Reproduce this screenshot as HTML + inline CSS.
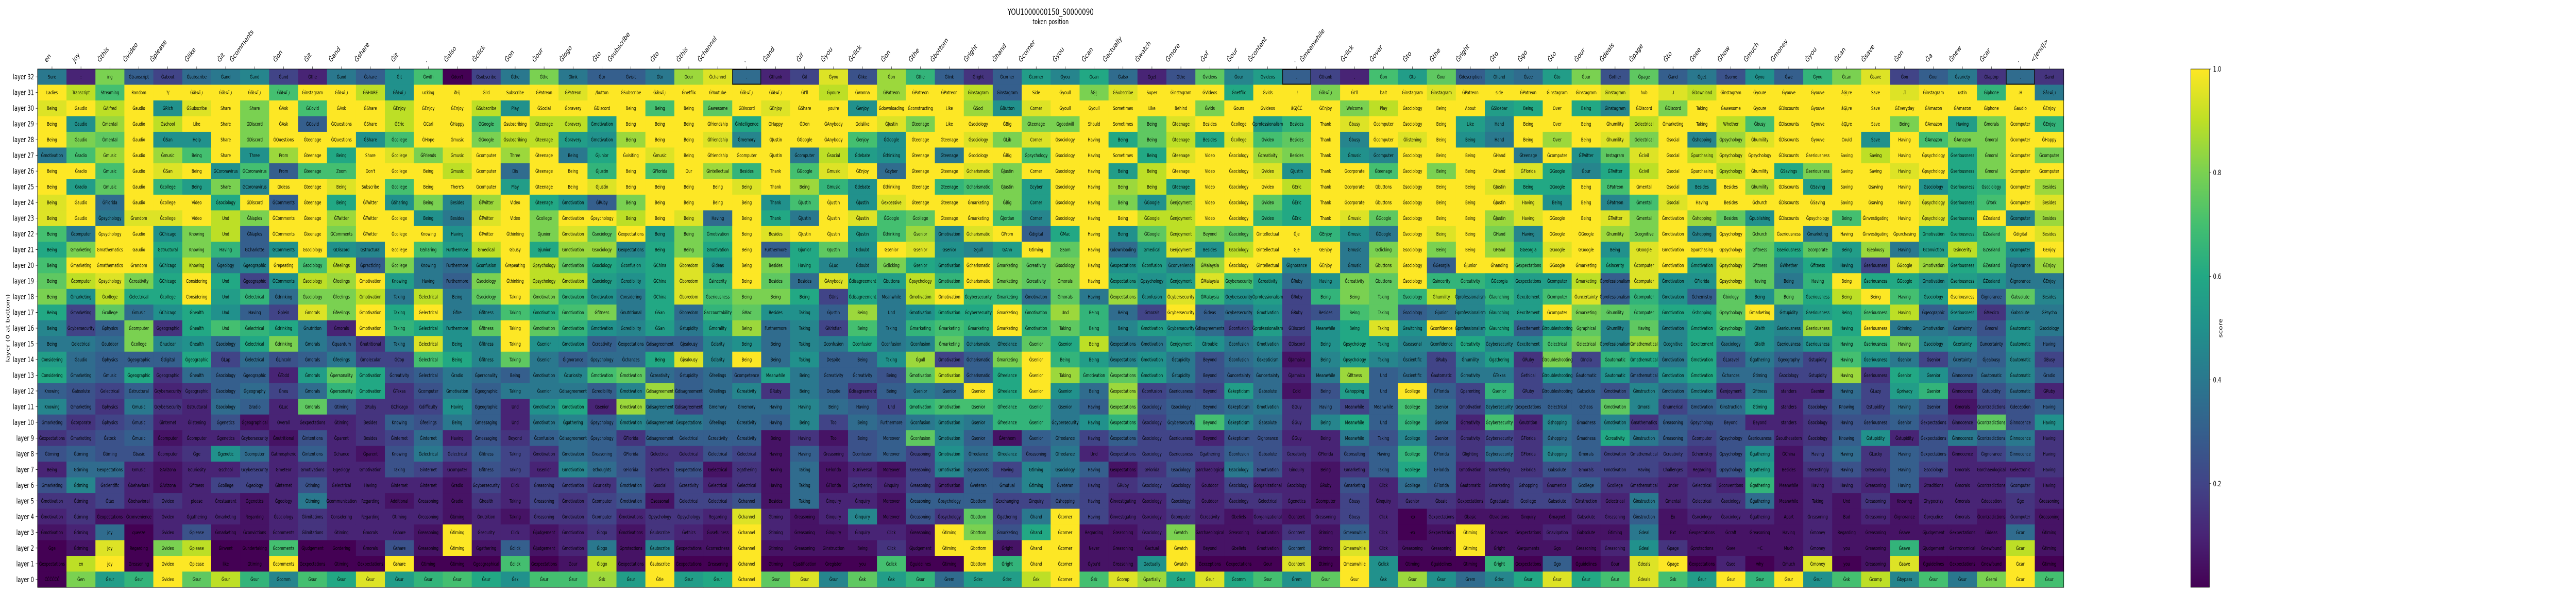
<!DOCTYPE html>
<html><head><meta charset="utf-8"><title>YOU1000000150_S0000090</title>
<style>
html,body{margin:0;padding:0;background:#fff;width:100%;height:1155px;overflow:hidden;}
svg{display:block;font-family:"DejaVu Sans","Liberation Sans",sans-serif;width:100vw;height:1155px;}
</style></head>
<body>
<svg id="chart" xmlns="http://www.w3.org/2000/svg" viewBox="0 0 7000 1155" preserveAspectRatio="none">
<rect x="0" y="0" width="7000" height="1155" fill="#fff"/>
<text x="2855" y="29" font-size="16.7" text-anchor="middle">YOU1000000150_S0000090</text>
<text x="2855" y="47" font-size="13.9" text-anchor="middle">token position</text>
<text transform="translate(26,637) rotate(-90)" font-size="13.9" text-anchor="middle">layer (0 at bottom)</text>
<g id="cells"></g>
<g id="celltext"></g>
<g id="xaxis"></g>
<g id="yaxis"></g>
<g id="cbar"></g>
</svg>
<script>
const xLabels=["en","joy","Ġthis","Ġvideo","Ġplease","Ġlike","Ġit","Ġcomments","Ġon","Ġit","Ġand","Ġshare","Ġit",".","Ġalso","Ġclick","Ġon","Ġour",
"Ġlogo","Ġto","Ġsubscribe","Ġto","Ġthis","Ġchannel",".","Ġand","Ġif","Ġyou","Ġclick","Ġon","Ġthe","Ġbottom","Ġright","Ġhand","Ġcorner","Ġyou",
"Ġcan","Ġactually","Ġwatch","Ġmore","Ġof","Ġour","Ġcontent",".","Ġmeanwhile","Ġclick","Ġover","Ġto","Ġthe","Ġright","Ġto","Ġgo","Ġto","Ġour",
"Ġdeals","Ġpage","Ġto","Ġsee","Ġhow","Ġmuch","Ġmoney","Ġyou","Ġcan","Ġsave","Ġon","Ġa","Ġnew","Ġcar",".","<|end|>"];
const yLabels=["layer 32","layer 31","layer 30","layer 29","layer 28","layer 27","layer 26","layer 25","layer 24","layer 23","layer 22","layer 21","layer 20","layer 19","layer 18","layer 17","layer 16","layer 15","layer 14","layer 13","layer 12","layer 11","layer 10","layer 9","layer 8","layer 7","layer 6","layer 5","layer 4","layer 3","layer 2","layer 1","layer 0"];
const colorbarTicks=[0.2,0.4,0.6,0.8,1.0];
const colorbarTickLabels=["0.2","0.4","0.6","0.8","1.0"];
const highlightCells=[[0,24],[0,43],[0,68]];
const cellScores=[
[.4,.1,.8,.3,.2,.35,.4,.45,.2,.1,.4,.3,.5,.7,0,.2,.4,.8, .4,.3,.3,.4,.85,.95,.35,.1,.2,.95,.25,.85,.65,.3,.15,.3,.55,.45, .6,.35,.1,.25,.75,.45,.55,.3,.2,.1,.7,.55,.75,.3,.4,.35,.55,.8, .25,.75,.3,.4,.25,.5,.3,.65,.8,.95,.2,.3,.4,.15,.35,.15],
[1,.9,.7,1,1,1,1,1,.7,1,1,.9,.5,1,1,1,1,1, .95,1,1,1,1,1,1,1,1,.9,1,.85,1,1,.9,.3,1,1, .8,.95,1,1,1,.6,1,1,.8,1,1,1,.95,1,1,1,1,1, .95,1,.95,.9,1,1,1,1,1,1,.95,1,1,.65,1,.4],
[.95,1,.9,1,.5,.95,1,.8,1,.7,1,1,.9,1,1,.9,.5,1, 1,1,1,.7,1,.75,1,.95,1,1,.5,1,1,1,.85,.5,.95,1, 1,1,1,1,.8,1,1,1,1,.8,.9,1,1,1,.55,.6,1,.6, .45,1,.8,1,1,1,1,1,1,1,1,1,1,1,1,1],
[1,.5,.85,1,.9,1,1,.8,1,.3,1,1,.9,1,1,.7,1,.9, .9,.55,1,1,1,1,.6,1,1,1,1,.95,.8,1,1,1,.8,.8, 1,1,.75,.95,1,1,.55,.65,1,.95,1,1,1,.55,.45,1,1,1, 1,.9,1,1,.9,.7,1,1,1,1,.8,1,.55,.8,1,.65],
[1,.8,.75,1,.5,.5,1,.8,1,1,1,.5,.7,1,1,.8,.9,.9, .55,.5,.85,1,1,.95,.45,1,1,1,.7,.5,1,1,.95,.8,.95,1, 1,.6,.75,.9,.6,.95,.7,.75,1,.45,1,.95,1,.5,.4,1,.85,1, .95,.8,1,.45,.85,.95,1,1,1,.5,1,.7,.8,.8,1,1],
[.4,.7,.85,1,.85,.7,1,.5,.85,1,.6,1,.95,.8,.95,1,.85,1, .4,.6,1,.95,1,1,1,1,.4,.9,.55,.5,1,.4,1,1,.7,1, 1,1,.6,.95,1,1,.85,.8,1,.5,.45,1,1,1,1,.4,1,.5, .75,.95,1,.9,.95,1,1,1,1,.9,1,1,.6,.8,1,.8],
[1,1,.7,1,.95,1,.5,.7,.3,.7,.7,1,1,1,.9,1,.35,1, 1,.65,1,.7,1,.85,.65,1,.7,.95,1,.35,1,1,.95,.8,1,1, 1,.55,.9,1,1,1,.95,.5,1,1,.7,1,.8,1,1,.95,.6,.45, .6,.9,1,1,.9,1,.6,.8,1,1,.95,1,.6,.8,1,1],
[1,.55,.75,1,.65,.55,.8,.45,1,1,.95,1,.7,1,1,1,.55,1, 1,.95,1,1,1,1,.95,1,.85,.65,.5,1,1,.65,.7,.8,.55,1, 1,.85,.9,.55,1,1,1,.9,1,1,1,1,1,1,.95,.6,.6,1, .7,1,1,.5,1,.85,1,.55,1,1,1,.5,.6,.65,1,.85],
[.95,1,.35,1,1,1,.6,1,.3,1,.6,1,.5,.8,.45,.85,1,.6, .5,.3,.8,1,1,1,1,.5,.7,1,.5,.95,1,1,1,.8,.55,1, 1,.8,.5,.85,1,1,.75,.6,1,1,1,1,1,1,1,.95,.5,1, .45,.7,.95,1,1,1,1,1,1,1,1,.95,.6,.7,1,.95],
[.95,1,.4,.95,.95,1,.9,.8,1,1,.85,1,1,.5,.4,.95,1,.8, 1,1,.9,1,.95,.35,1,.6,.4,1,.95,.7,.75,1,1,.7,.45,1, 1,1,.9,.9,1,1,.65,.6,1,.95,.75,1,1,1,.85,.95,1,1, .95,.8,1,.85,.75,.5,1,1,.7,1,1,.95,.6,1,.45,.85],
[.7,.4,1,1,.5,.8,.9,.3,1,1,.8,1,1,1,.5,1,1,.8, .95,.75,1,.55,.8,.65,1,.95,1,1,.55,.7,.85,.45,.95,1,.3,.6, 1,.5,.75,.9,.8,.75,1,1,.65,.5,.4,1,.95,1,.8,.45,1,1, .85,.8,1,.45,1,.8,1,.4,1,1,1,.6,.6,.7,1,.95],
[.6,.8,1,1,.6,.8,.65,.3,.5,1,.5,.45,1,.7,.55,.9,1,.6, .85,.85,.45,.6,.8,.6,1,.3,.6,.75,.5,1,.95,.5,.45,.55,1,.75, 1,.35,.55,.95,.5,.9,1,1,1,.4,.8,1,.8,1,.85,.6,.95,1, .5,.95,1,1,1,.75,.6,.75,.55,.85,.4,.55,.9,.7,.5,1],
[.7,1,1,1,.55,.9,.4,.45,1,.7,.9,.3,.8,.4,.35,.5,1,.9, .75,.6,.55,.6,.95,.5,1,.8,.6,.45,.45,.8,.6,.55,1,.8,.75,.8, 1,.5,.55,.45,.85,1,1,.45,1,.4,.85,1,.3,1,1,.7,1,1, .6,.95,1,.55,.95,.75,.45,.6,.5,.2,.95,.85,.6,.7,.4,.85],
[.75,.9,.95,.8,.6,1,.6,.2,.5,.9,.85,1,.55,.4,.3,.8,1,.9, .9,.55,.5,.6,.95,.65,1,.75,.35,.95,.6,.55,.9,.65,1,.8,.75,.8, 1,.55,.5,.55,.95,.7,.55,.35,.5,.8,.75,1,.65,.65,.6,.55,.55,.9, .3,.95,.5,.5,.95,.75,.4,.65,1,.6,.6,.5,.55,.5,.4,.4],
[.8,.5,.9,.6,.6,1,.55,.65,.35,.8,.8,.9,.4,.9,.4,.75,1,.8, .65,.5,.4,.6,.95,.7,.8,.8,.6,.2,.6,.4,.9,1,.65,.65,.35,.75, .4,.85,.5,.95,.65,.5,.55,.2,.65,.8,.75,.65,.9,.45,.65,.55,.7,.95, .3,.65,.5,.3,.75,.5,.75,.6,.9,1,.7,.55,1,.3,.75,.45],
[.6,.2,.75,.35,.5,.6,.5,.3,.2,.95,.8,1,.6,1,.4,.45,.7,.6, .7,.8,.4,.6,.35,.65,.75,.5,.5,.3,.85,.4,.5,.6,.6,1,.65,.85, .65,.35,.2,1,.3,.35,.5,.2,.25,.7,.75,.3,.35,.45,.55,.55,1,.8, .75,.7,.6,.6,.75,1,.45,.55,.6,.7,.9,.3,.5,.15,.4,.4],
[.45,.2,.3,.8,.15,.6,.7,.65,.6,.4,.1,1,.65,.6,.5,.75,1,.75, .65,.5,.45,.55,.4,.55,.85,.35,.45,.2,.7,.4,.65,.7,.65,1,.65,.75, .65,.45,.55,.5,.35,.2,.55,.2,.5,.6,.95,.5,1,.45,.6,.3,.55,.75, .45,.75,.45,.6,.7,.5,.45,.85,.6,1,.4,.4,.35,.25,.5,.4],
[.4,.4,.35,.8,.45,.5,.35,.6,.8,.4,.3,.15,.4,.95,.5,.45,1,.5, .5,.3,.35,.3,.3,.45,.5,.35,.45,.4,.6,.4,.45,.75,.45,.45,.75,.6, .9,.4,.4,.55,.5,.4,.45,.15,.5,.6,.55,.45,.45,.6,.45,.45,.7,.8, .45,.85,.45,.6,.4,.5,.4,.5,.65,.65,.8,.45,.5,.3,.5,.3],
[.55,.35,.3,.3,.3,.6,.2,.35,.25,.3,.4,.2,.2,.7,.6,.45,.75,.4, .3,.35,.35,.6,.95,.45,1,.35,.5,.3,.3,.5,.85,.2,.3,.8,1,.65, .55,.45,.5,.4,.25,.35,.4,.05,.45,.55,.45,.4,.2,.45,.55,.15,.8,.2, .65,.6,.4,.6,.25,.4,.3,.2,.7,.5,.4,.2,.35,.3,.45,.2],
[.6,.35,.3,.6,.15,.35,.3,.3,.1,.55,.75,.6,.25,.3,.4,.35,.3,.4, .45,.7,.75,.35,.3,.35,.3,.55,.4,.3,.3,.25,.75,.9,.3,.6,1,.85, .65,.75,.55,.4,.25,.3,.35,.1,.4,.85,.3,.35,.2,.4,.4,.2,.5,.3, .5,.3,.5,.6,.35,.35,.2,.2,.85,.15,.6,.5,.3,.35,.45,.3],
[.3,.25,.2,.3,.1,.15,.3,.35,.2,.35,.65,.6,.15,.25,.4,.3,.4,.4, .4,.3,.45,.85,.3,.35,.45,.15,.4,.3,.15,.3,.4,.35,1,.6,1,.5, .35,.85,.2,.25,.2,.55,.35,.05,.25,.55,.3,1,.3,.2,.65,.2,.3,.3, .25,.45,.35,.45,.15,.4,.1,.1,.35,.2,.55,.65,.1,.25,.35,.1],
[.45,.25,.15,.4,.15,.1,.35,.3,.1,.75,.25,.15,.15,.2,.5,.3,.1,.5, .6,.1,.85,.4,.2,.35,.35,.35,.45,.35,.3,.2,.65,.7,.7,.65,.65,.4, .3,.8,.25,.3,.3,.35,.4,.15,.3,.2,.3,.7,.35,.2,.4,.3,.3,.3, .75,.45,.2,.3,.35,.55,.1,.2,.3,.2,.35,.25,.05,.2,.25,.3],
[.25,.15,.2,.25,.1,.1,.25,.05,.1,.1,.1,.15,.3,.25,.4,.3,.1,.4, .45,.3,.45,.4,.4,.35,.35,.3,.45,.2,.35,.3,.4,.45,.4,.65,.65,.4, .5,.65,.2,.3,.7,.45,.35,.15,.45,.6,.3,.65,.35,.1,.7,.1,.45,.3, .45,.15,.3,.25,.25,.1,.1,.15,.25,.25,.3,.2,.15,.75,.25,.5],
[.15,.2,.25,.3,.05,.1,.1,.15,.05,.25,.1,.15,.2,.35,.1,.25,.15,.3, .35,.3,.15,.3,.3,.3,.3,.05,.15,.05,.25,.3,.75,.45,.3,.05,.3,.35, .2,.3,.2,.2,.1,.25,.25,.1,.1,.4,.25,.45,.25,.15,.2,.15,.35,.3, .6,.4,.3,.2,.25,.25,.1,.15,.3,.5,.1,.25,.4,.3,.4,.15],
[.25,.3,.25,.25,.1,.15,.5,.35,.1,.3,.1,.05,.25,.4,.2,.3,.2,.15, .35,.3,.25,.15,.15,.25,.2,.05,.3,.1,.25,.3,.2,.5,.35,.45,.25,.4, .1,.2,.2,.2,.2,.3,.25,.15,.1,.25,.3,.65,.3,.15,.35,.15,.45,.3, .2,.2,.2,.15,.25,.5,.05,.2,.35,.15,.3,.25,.1,.2,.3,.15],
[.1,.35,.35,.1,.05,.1,.1,.2,.1,.15,.1,.1,.25,.2,.1,.25,.2,.1, .45,.35,.25,.15,.25,.05,.15,.05,.35,.05,.1,.05,.2,.45,.3,.2,.45,.4, .3,.05,.15,.25,.1,.4,.25,.1,.05,.15,.3,.6,.3,.1,.15,.15,.25,.2, .2,.2,.15,.1,.25,.55,.05,.15,.25,.15,.3,.2,.1,.1,.1,.15],
[.25,.45,.2,.1,.05,.1,.2,.2,.1,.25,.1,.1,.1,.1,.05,.2,.1,.2, .2,.15,.3,.15,.2,.1,.15,.05,.35,.05,.15,.1,.2,.1,.3,.3,.45,.3, .2,.15,.2,.2,.1,.2,.1,.1,.05,.25,.1,.35,.3,.1,.15,.2,.15,.3, .15,.15,.1,.15,.1,.65,.05,.1,.15,.1,.3,.1,.1,.1,.2,.1],
[.15,.15,.2,.1,.15,.1,.1,.05,.1,.4,.1,.1,.05,.1,.05,.15,.1,.2, .15,.2,.25,.05,.2,.2,.25,.05,.35,.1,.1,.05,.3,.3,.3,.2,.2,.25, .2,.1,.1,.2,.1,.15,.15,.1,.05,.2,.1,.15,.15,.1,.15,.2,.2,.15, .1,.4,.1,.15,.15,.35,.05,.1,.05,.15,.05,.1,.1,.1,.15,.1],
[.1,.15,.05,.05,.1,.1,.1,.05,.1,.15,.1,.1,.1,.1,.05,.1,.05,.15, .15,.2,.1,.15,.15,.1,.95,.1,.05,.1,.45,.05,.25,.15,.75,.2,.4,1, .2,.1,.1,.15,.1,.05,.1,.05,.1,.2,.1,0,.1,.05,.05,.05,.05,.1, .1,.3,.05,.1,.1,.1,.05,.1,.05,.1,.05,.1,.1,.05,.15,.05],
[.05,.1,.35,0,.1,.25,.05,.05,.1,.15,.1,.1,.1,.05,1,.1,.1,.05, .1,.15,.05,.15,.1,.05,1,.1,.05,.05,.1,.1,.05,1,.8,.25,.6,1, .05,.05,.1,.8,.05,.05,.05,.15,.05,.3,.1,0,.05,1,.05,.05,.1,.05, .05,.4,.05,.05,.05,.05,.05,.1,.05,.05,.05,.05,.05,.05,.35,.05],
[0,.05,.95,0,.8,.9,0,0,.7,0,0,.05,.25,.05,1,.05,.3,.05, .1,.4,.05,.45,.05,.05,1,.05,.05,.05,.05,.15,.05,1,1,.05,1,1, .05,.05,.05,1,.05,.05,.05,.3,.05,.95,.1,.05,.05,1,.05,.05,.05,.05, .1,.5,.15,.05,.05,.05,.05,.1,.05,.05,.65,.05,.05,.05,.9,.05],
[0,.9,1,0,1,1,0,0,1,0,0,0,1,0,0,0,.7,0, .05,.9,.05,1,0,0,1,0,0,0,0,.7,0,0,1,.65,1,1, .05,.05,.5,1,0,0,0,.95,0,1,.5,0,0,0,.65,0,.3,0, .05,.95,1,0,.1,0,.05,.95,0,.05,.95,0,0,0,1,0],
[0,.8,.55,.65,1,.75,.9,.65,.45,.7,.6,.95,.55,.65,.7,.6,.5,.7, .7,.85,.55,1,.55,.6,1,.75,.95,.45,.75,.55,.65,.35,.55,.55,.9,1, .7,.95,.85,.6,.95,.6,.7,.5,.75,1,.5,.85,.5,.35,.45,.6,.95,.6, .7,.95,.7,.55,1,.65,1,.5,.7,.9,.45,.7,.4,.8,1,.7]
];
const cellTokenRows=[
"Sure|:|ing|Ġtranscript|Ġabout|Ġsubscribe|Ġand|Ġand|Ġand|Ġthe|Ġand|Ġshare|Ġit|Ġwith|Ġdon't|Ġsubscribe|Ġthe|Ġthe|"+"Ġlink|Ġto|Ġvisit|Ġto|Ġour|Ġchannel|.|Ġthank|Ġif|Ġyou|Ġlike|Ġon|Ġthe|Ġlink|Ġright|Ġcorner|Ġcorner|Ġyou|"+"Ġcan|Ġalso|Ġget|Ġthe|Ġvideos|Ġour|Ġvideos|.|Ġthank|,|Ġon|Ġto|Ġour|Ġdescription|Ġhand|Ġsee|Ġto|Ġour|"+"Ġother|Ġpage|Ġand|Ġget|Ġsome|Ġyou|Ġwe|Ġyou|Ġcan|Ġsave|Ġon|Ġour|Ġvariety|Ġlaptop|.|Ġand",
"Ladies|Transcript|Streaming|Random|?/|ĠâĿ¤ï¸ı|ĠâĿ¤ï¸ı|ĠâĿ¤ï¸ı|ĠâĿ¤ï¸ı|Ġinstagram|ĠâĿ¤ï¸ı|ĠSHARE|ĠâĿ¤ï¸ı|ucking|ðĿĳ|Ġi'd|Subscribe|ĠPatreon|"+"ĠPatreon|/button|ĠSubscribe|ĠâĿ¤ï¸ı|Ġnetflix|ĠYoutube|ĠâĿ¤ï¸ı|ĠâĿ¤ï¸ı|ĠI'll|Ġyoure|Ġwanna|ĠPatreon|ĠPatreon|ĠPatreon|Ġinstagram|Ġinstagram|Side|Ġyoull|"+"âĢĻ|ĠSubscribe|Super|Ġinstagram|ĠVideos|Ġnetflix|Ġvids|.!|ĠâĿ¤ï¸ı|ĠI'll|bait|Ġinstagram|Ġinstagram|ĠPatreon|side|ĠPatreon|Ġinstagram|Ġinstagram|"+"Ġinstagram|hub|.I|ĠDownload|Ġinstagram|Ġyoure|Ġyouve|Ġyouve|âĢĻre|Save|.T|Ġinstagram|ustin|Ġiphone|.H|ĠâĿ¤ï¸ı",
"Being|Ġaudio|ĠAlfred|Ġaudio|ĠRich|ĠSubscribe|Share|Share|ĠAsk|ĠCovid|ĠAsk|ĠShare|ĠEnjoy|ĠEnjoy|ĠEnjoy|ĠSubscribe|Play|ĠSocial|"+"Ġbravery|ĠDiscord|Being|Being|Being|Ġawesome|ĠDiscord|ĠEnjoy|ĠShare|you're|Ġenjoy|Ġdownloading|Ġconstructing|Like|ĠSoci|ĠButton|Corner|Ġyoull|"+"Ġyoull|Sometimes|Like|Behind|Ġvids|Ġours|Ġvideos|âĢ¦ĊĊ|ĠEnjoy|Welcome|Play|Ġsociology|Being|About|ĠSidebar|Being|Over|Being|"+"Ġinstagram|ĠDiscord|ĠDiscord|Taking|Ġawesome|Ġyoure|ĠDiscounts|Ġyouve|âĢĻre|Save|ĠEveryday|ĠAmazon|ĠAmazon|Ġiphone|Ġaudio|ĠEnjoy",
"Being|Ġaudio|Ġmental|Ġaudio|Ġschool|Like|Share|ĠDiscord|ĠAsk|ĠCovid|ĠQuestions|ĠShare|ĠEric|ĠCarl|ĠHappy|ĠGoogle|Ġsubscribing|Ġteenage|"+"Ġbravery|Ġmotivation|Being|Being|Being|Ġfriendship|Ġintelligence|ĠHappy|ĠDon|ĠAnybody|Ġdislike|ĠJustin|Ġteenage|Like|Ġsociology|ĠBig|Ġteenage|Ġgoodwill|"+"Should|Sometimes|Being|Ġteenage|Besides|Ġcollege|Ġprofessionalism|Besides|Thank|Ġbusy|Ġcomputer|Ġsociology|Being|Like|Hand|Being|Over|Being|"+"Ġhumility|Ġelectrical|Ġmarketing|Taking|Whether|Ġbusy|ĠDiscounts|Ġyouve|âĢĻre|Save|Being|ĠAmazon|Having|Ġmorals|Ġcomputer|ĠEnjoy",
"Being|Ġaudio|Ġmental|Ġaudio|ĠSan|Help|Share|ĠDiscord|ĠQuestions|Ġteenage|ĠQuestions|ĠShare|Ġcollege|ĠHope|Ġmusic|ĠGoogle|Ġsubscribing|Ġteenage|"+"Ġbravery|Ġmotivation|Being|Being|Being|Ġfriendship|Ġmemory|ĠJustin|ĠGoogle|ĠAnybody|Ġenjoy|ĠGoogle|Ġteenage|Ġteenage|Ġsociology|ĠLib|Corner|Ġsociology|"+"Having|Being|Being|Ġteenage|Besides|Ġcollege|Ġvideo|Besides|Thank|Ġbusy|Ġcomputer|Ġlistening|Being|Being|Hand|Being|Over|Being|"+"Ġhumility|Ġelectrical|Ġsocial|Ġshopping|Ġpsychology|Ġhumility|ĠDiscounts|Ġyouve|Could|Save|Having|ĠAmazon|ĠAmazon|Ġmoral|Ġcomputer|ĠHappy",
"Ġmotivation|Ġradio|Ġmusic|Ġaudio|Ġmusic|Being|Share|Three|Prom|Ġteenage|Being|Share|Ġcollege|ĠFriends|Ġmusic|Ġcomputer|Three|Ġteenage|"+"Being|Ġjunior|Ġvisiting|Ġmusic|Being|Ġfriendship|Ġcomputer|ĠJustin|Ġcomputer|Ġsocial|Ġdebate|Ġthinking|Ġteenage|Ġteenage|Ġsociology|ĠBig|Ġpsychology|Ġsociology|"+"Having|Sometimes|Being|Ġteenage|Video|Ġsociology|Ġcreativity|Besides|Thank|Ġmusic|Ġcomputer|Ġsociology|Being|Being|ĠHand|Ġteenage|Ġcomputer|ĠTwitter|"+"Instagram|Ġcivil|Ġsocial|Ġpurchasing|Ġpsychology|Ġpsychology|ĠDiscounts|Ġseriousness|Saving|Saving|Having|Ġpsychology|Ġseriousness|Ġmoral|Ġcomputer|Ġcomputer",
"Being|Ġradio|Ġmusic|Ġaudio|ĠSan|Being|ĠCoronavirus|ĠCoronavirus|Prom|Ġteenage|Zoom|Don't|Ġcollege|Being|Ġmusic|Ġcomputer|Dis|Ġteenage|"+"Being|ĠJustin|Being|ĠFlorida|Our|Ġintellectual|Besides|Thank|ĠGoogle|Ġmusic|ĠEnjoy|Ġcyber|Ġteenage|Ġteenage|Ġcharismatic|ĠJustin|Corner|Ġsociology|"+"Having|Being|Being|Ġteenage|Video|Ġsociology|Ġvideo|ĠJustin|Thank|Ġcorporate|Ġteenage|Ġsociology|Being|Being|ĠHand|ĠFlorida|ĠGoogle|Ġour|"+"ĠTwitter|Ġcivil|Ġsocial|Ġpurchasing|Ġpsychology|Ġhumility|ĠSavings|Ġseriousness|Saving|Saving|Having|Ġpsychology|Ġseriousness|Ġmoral|Ġcomputer|Ġcomputer",
"Being|Ġradio|Ġmusic|Ġaudio|Ġcollege|Being|Share|ĠCoronavirus|ĠIdeas|Ġteenage|Being|Subscribe|Ġcollege|Being|There's|Ġcomputer|Play|Ġteenage|"+"Being|ĠJustin|Being|Being|Being|Being|Being|Thank|Being|Ġmusic|Ġdebate|Ġthinking|Ġteenage|Ġteenage|Ġcharismatic|ĠJustin|Ġcyber|Ġsociology|"+"Having|Being|Being|Ġteenage|Video|Ġsociology|Ġvideo|ĠEric|Thank|Ġcorporate|Ġbuttons|Ġsociology|Being|Being|ĠJustin|Being|ĠGoogle|Being|"+"ĠPatreon|Ġmental|Ġsocial|Besides|Besides|Ġhumility|ĠDiscounts|ĠSaving|Saving|Ġsaving|Having|Ġsociology|Ġseriousness|Ġsociology|Ġcomputer|Besides",
"Being|Ġaudio|ĠFlorida|Ġaudio|Ġcollege|Video|Ġsociology|ĠDiscord|ĠComments|Ġteenage|Being|ĠTwitter|ĠSharing|Being|Besides|ĠTwitter|Video|Ġteenage|"+"Ġmotivation|ĠRuby|Being|Being|Being|Being|Being|Thank|ĠJustin|ĠJustin|ĠJustin|Ġexcessive|Ġteenage|Ġteenage|Ġmarketing|ĠBig|Corner|Ġsociology|"+"Having|Being|ĠGoogle|Ġenjoyment|Video|Ġsociology|Ġvideo|ĠEric|Thank|Ġcorporate|Ġbuttons|Ġsociology|Being|Being|ĠJustin|Having|Being|Being|"+"ĠPatreon|Ġmental|Ġsocial|Having|Besides|Ġchurch|ĠDiscounts|ĠSaving|Saving|Ġsaving|Having|Ġpsychology|Ġseriousness|ĠYork|Ġcomputer|Besides",
"Being|Ġaudio|Ġpsychology|Ġrandom|Ġcollege|Video|Und|ĠNaples|ĠComments|Ġteenage|ĠTwitter|ĠTwitter|Ġcollege|Being|Besides|ĠTwitter|Video|Ġcollege|"+"Ġmotivation|Ġpsychology|Being|Being|Being|Having|Being|Thank|ĠJustin|ĠJustin|ĠJustin|ĠGoogle|Ġcollege|Ġteenage|Ġmarketing|ĠJordan|Corner|Ġsociology|"+"Having|Being|ĠGoogle|Ġenjoyment|Video|Ġsociology|Ġvideo|ĠEric|Thank|Ġmusic|ĠGoogle|Ġsociology|Being|Being|ĠJustin|Having|ĠGoogle|Being|"+"ĠTwitter|Ġmental|Ġmotivation|Ġshopping|Besides|Ġpublishing|ĠDiscounts|Ġpsychology|Being|Ġinvestigating|Having|Ġpsychology|Ġseriousness|ĠZealand|Ġcomputer|Besides",
"Being|Ġcomputer|Ġpsychology|Ġaudio|ĠChicago|Knowing|Und|ĠNaples|ĠComments|Ġteenage|ĠComments|ĠTwitter|Ġcollege|Knowing|Having|ĠTwitter|Ġthinking|Ġjunior|"+"Ġmotivation|Ġsociology|Ġexpectations|Being|Being|Ġmotivation|Being|Besides|ĠJustin|ĠJustin|ĠJustin|Ġthinking|Ġsenior|Ġmotivation|Ġcharismatic|ĠProm|Ġdigital|ĠMac|"+"Having|Being|ĠGoogle|Ġenjoyment|Beyond|Ġsociology|Ġintellectual|Ġje|ĠEnjoy|Ġmusic|ĠGoogle|Ġsociology|Being|Being|ĠHand|Having|ĠGoogle|ĠGoogle|"+"Ġhumility|Ġcognitive|Ġmotivation|Ġshopping|Ġpsychology|Ġchurch|Ġseriousness|Ġmarketing|Having|Ġinvestigating|Ġpurchasing|Ġmotivation|Ġseriousness|ĠZealand|Ġdigital|Besides",
"Being|Ġmarketing|Ġmathematics|Ġaudio|Ġstructural|Knowing|Having|ĠCharlotte|ĠComments|Ġsociology|ĠDiscord|Ġstructural|Ġcollege|ĠSharing|Furthermore|Ġmedical|Ġbusy|Ġjunior|"+"Ġmotivation|Ġsociology|Ġexpectations|Being|Being|Ġmotivation|Being|Furthermore|Ġjunior|ĠJustin|Ġdoubt|Ġsenior|Ġsenior|Ġsenior|Ġgull|ĠAnn|Ġtiming|ĠSam|"+"Having|Ġdownloading|Ġmedical|Ġenjoyment|Besides|Ġsociology|Ġintellectual|Ġje|ĠEnjoy|Ġmusic|Ġclicking|Ġsociology|Being|Being|ĠHand|ĠGeorgia|ĠGoogle|ĠGoogle|"+"Being|ĠGoogle|Ġmotivation|Ġpurchasing|Ġpsychology|Ġfitness|Ġseriousness|Ġcorporate|Being|Ġjealousy|Having|Ġconviction|Ġsincerity|ĠZealand|Ġcomputer|ĠEnjoy",
"Being|Ġmarketing|Ġmathematics|Ġrandom|ĠChicago|Knowing|Ġgeology|Ġgeographic|Ġrepeating|Ġsociology|Ġfeelings|Ġpracticing|Ġcollege|Knowing|Furthermore|Ġconfusion|Ġrepeating|Ġpsychology|"+"Ġmotivation|Ġsociology|Ġconfusion|ĠChina|Ġboredom|Ġideas|Being|Besides|Having|ĠLuc|Ġdoubt|Ġclicking|Ġsenior|Ġmotivation|Ġcharismatic|Ġmarketing|Ġcreativity|Ġsociology|"+"Having|Ġexpectations|Ġconfusion|Ġconvenience|ĠMalaysia|Ġsociology|Ġintellectual|Ġignorance|ĠEnjoy|Ġmusic|Ġbuttons|Ġsociology|ĠGeorgia|Ġjunior|Ġhanding|Ġexpectations|ĠGoogle|Ġmarketing|"+"Ġsincerity|Ġcomputer|Ġmotivation|Ġmotivation|Ġpsychology|Ġfitness|ĠWhether|Ġfitness|Having|Ġseriousness|ĠGoogle|Ġmotivation|Ġseriousness|ĠZealand|Ġignorance|ĠEnjoy",
"Being|Ġcomputer|Ġpsychology|Ġcreativity|ĠChicago|Considering|Und|Ġgeographic|ĠComments|Ġsociology|Ġfeelings|Ġmotivation|Knowing|Having|Furthermore|Ġsociology|Ġthinking|Ġpsychology|"+"Ġmotivation|Ġsociology|Ġcredibility|ĠChina|Ġboredom|Ġsincerity|Being|Besides|Besides|ĠAnybody|Ġdisagreement|Ġbuttons|Ġpsychology|Ġmotivation|Ġcharismatic|Ġmarketing|Ġcreativity|Ġmorals|"+"Having|Ġexpectations|Ġpsychology|Ġenjoyment|ĠMalaysia|Ġcybersecurity|Ġcreativity|ĠRuby|Having|Ġcreativity|Ġbuttons|Ġsociology|Ġsincerity|Ġcreativity|ĠGeorgia|Ġexpectations|Ġcomputer|Ġmarketing|"+"Ġprofessionalism|Ġcomputer|Ġmotivation|ĠFlorida|Ġpsychology|Having|Being|Having|Being|Ġseriousness|ĠGoogle|Ġmotivation|Ġseriousness|ĠZealand|Ġignorance|ĠEnjoy",
"Being|Ġmarketing|Ġcollege|Ġelectrical|Ġcollege|Considering|Und|Ġelectrical|Ġdrinking|Ġsociology|Ġfeelings|Ġmotivation|Taking|Ġelectrical|Being|Ġsociology|Taking|Ġmotivation|"+"Ġmotivation|Ġmotivation|Considering|ĠChina|Ġboredom|Ġseriousness|Being|Being|Being|ĠUns|Ġdisagreement|Meanwhile|Ġmotivation|Ġmotivation|Ġcybersecurity|Ġmarketing|Ġmotivation|Ġmorals|"+"Having|Ġexpectations|Ġconfusion|Ġcybersecurity|ĠMalaysia|Ġcybersecurity|Ġprofessionalism|ĠRuby|Being|Being|Taking|Ġsociology|Ġhumility|Ġprofessionalism|Ġlaunching|Ġexcitement|Ġcomputer|Ġuncertainty|"+"Ġprofessionalism|Ġcomputer|Ġmotivation|Ġchemistry|Ġbiology|Being|Being|Ġseriousness|Being|Being|Having|Ġsociology|Ġseriousness|Ġignorance|Ġabsolute|Besides",
"Being|Ġmarketing|Ġcollege|Ġmusic|ĠChicago|Ġhealth|Und|Having|Ġplein|Ġmorals|Ġfeelings|Ġmotivation|Taking|Ġelectrical|Ġfire|Ġfitness|Taking|Ġmotivation|"+"Ġmotivation|Ġfitness|Ġnutritional|ĠSan|Ġboredom|Ġaccountability|ĠMac|Besides|Taking|ĠJustin|Being|Und|Ġmotivation|Ġmotivation|Ġcybersecurity|Ġmarketing|Ġmotivation|Und|"+"Being|Being|Ġmorals|Ġcybersecurity|Ġideas|Ġcybersecurity|Ġmotivation|ĠRuby|Besides|Being|Taking|Ġsociology|Ġjunior|Ġprofessionalism|Ġlaunching|Ġexcitement|Ġcomputer|Ġmarketing|"+"Ġhumility|Ġcomputer|Ġmotivation|Ġshopping|Ġpsychology|Ġmarketing|Ġstupidity|Ġseriousness|Being|Ġseriousness|Having|Ġgeographic|Ġseriousness|ĠMexico|Ġabsolute|ĠPsycho",
"Being|Ġcybersecurity|Ġphysics|Ġcomputer|Ġgeographic|Ġhealth|Und|Ġelectrical|Ġdrinking|Ġnutrition|Ġmorals|Ġmotivation|Taking|Ġelectrical|Furthermore|Ġfitness|Taking|Ġmotivation|"+"Ġmotivation|Ġmotivation|Ġcredibility|ĠSan|Ġstupidity|Ġmorality|Being|Furthermore|Taking|ĠKristian|Being|Taking|Ġmarketing|Ġmarketing|Ġmarketing|Ġmarketing|Ġmotivation|Taking|"+"Being|Being|Ġmotivation|Ġcybersecurity|Ġdisagreements|Ġconfusion|Ġprofessionalism|ĠDiscord|Meanwhile|Being|Taking|Ġswitching|Ġconfidence|Ġprofessionalism|Ġlaunching|Ġexcitement|Ġtroubleshooting|Ġgraphical|"+"Ġhumility|Having|Ġmotivation|Ġmotivation|Ġpsychology|Ġfaith|Ġseriousness|Ġseriousness|Having|Ġseriousness|Ġtiming|Ġmotivation|Ġcertainty|Ġmoral|Ġautomatic|Ġsociology",
"Being|Ġelectrical|Ġoutdoor|Ġcollege|Ġnuclear|Ġhealth|Ġsociology|Ġelectrical|Ġdrinking|Ġmorals|Ġquantum|Ġnutritional|Taking|Ġelectrical|Being|Ġfitness|Taking|Ġsenior|"+"Ġmotivation|Ġcreativity|Ġexpectations|Ġdisagreement|Ġjealousy|Ġclarity|Being|Being|Taking|Ġconfusion|Ġconfusion|Ġconfusion|Ġconfusion|Ġmarketing|Ġcharismatic|Ġfreelance|Ġsenior|Ġsenior|"+"Being|Ġexpectations|Ġmotivation|Ġenjoyment|Ġtrouble|Ġconfusion|Ġmotivation|ĠDiscord|Being|Ġpsychology|Taking|Ġseasonal|Ġconfidence|Ġcreativity|Ġcybersecurity|Ġexcitement|Ġelectrical|Ġelectrical|"+"Ġprofessionalism|Ġmathematical|Ġcognitive|Ġexcitement|Ġsociology|Ġfaith|Ġseriousness|Ġseriousness|Having|Ġseriousness|Having|Ġsociology|Ġcertainty|Ġuncertainty|Ġautomatic|Having",
"Considering|Ġaudio|Ġphysics|Ġgeographic|Ġdigital|Ġgeographic|ĠLap|Ġelectrical|ĠLincoln|Ġmorals|Ġfeelings|Ġmolecular|ĠCop|Ġelectrical|Being|Ġfitness|Taking|Ġsenior|"+"Ġignorance|Ġpsychology|Ġchances|Being|Ġjealousy|Ġclarity|Being|Being|Taking|Despite|Being|Taking|Ġgull|Ġmotivation|Ġcharismatic|Ġmarketing|Ġsenior|Being|"+"Being|Ġexpectations|Ġmotivation|Ġstupidity|Beyond|Ġconfusion|Ġskepticism|ĠJamaica|Being|Ġpsychology|Taking|Ġscientific|ĠRuby|Ġhumility|Ġgathering|ĠRuby|Ġtroubleshooting|ĠIndia|"+"Ġautomatic|Ġmathematical|Ġmotivation|Ġmotivation|ĠLaravel|Ġgathering|Ġgeography|Ġstupidity|Having|Ġseriousness|Ġsenior|Ġsenior|Ġcertainty|Ġjealousy|Ġautomatic|ĠBusy",
"Considering|Ġmarketing|Ġmusic|Ġgeographic|Ġgeographic|Ġhealth|Ġsociology|Ġgeographic|ĠTodd|Ġmorals|Ġpersonality|Ġmotivation|Ġcreativity|Ġelectrical|Ġradio|Ġpersonality|Being|Ġmotivation|"+"Ġcuriosity|Ġmotivation|Ġmotivation|Ġcreativity|Ġstupidity|Ġfeelings|Ġcompetence|Meanwhile|Being|Ġcreativity|Ġcreativity|Being|Ġmotivation|Ġmotivation|Ġcharismatic|Ġfreelance|Ġsenior|Taking|"+"Ġmotivation|Ġexpectations|Ġmotivation|Ġstupidity|Beyond|Ġuncertainty|Ġuncertainty|ĠJamaica|Meanwhile|Ġfitness|Und|Ġscientific|Ġautomatic|Ġcreativity|ĠTexas|Ġethical|Ġtroubleshooting|Ġautomatic|"+"Ġautomatic|Ġmathematical|Ġmotivation|Ġmotivation|Ġchances|Ġtiming|Ġsociology|Ġstupidity|Having|Ġseriousness|Ġsenior|Ġsenior|Ġinnocence|Ġautomatic|Ġautomatic|Ġradio",
"Knowing|Ġabsolute|Ġelectrical|Ġstructural|Ġcybersecurity|Ġgeographic|Ġsociology|Ġgeography|Ġneu|Ġmorals|Ġpersonality|Ġmotivation|ĠTexas|Ġcomputer|Ġmotivation|Ġgeographic|Taking|Ġsenior|"+"Ġdisagreement|Ġcredibility|Ġmotivation|Ġdisagreement|Ġdisagreement|Ġfeelings|Ġcreativity|ĠRuby|Being|Despite|Ġdisagreement|Being|Ġsenior|Ġsenior|Ġsenior|Ġfreelance|Ġsenior|Ġsenior|"+"Being|Ġexpectations|Ġconfusion|Ġseriousness|Beyond|Ġskepticism|Ġabsolute|Cold|Being|Ġshopping|Und|Ġcollege|ĠFlorida|Ġparenting|Ġsenior|ĠRuby|Ġtroubleshooting|Ġabsolute|"+"Ġmotivation|Ġinstruction|Ġmotivation|Ġmotivation|Ġenjoyment|Ġfitness|standers|Ġsenior|Having|ĠLazy|Ġprivacy|Ġsenior|Ġinnocence|Ġstupidity|Ġautomatic|ĠRuby",
"Knowing|Ġmarketing|Ġphysics|Ġmusic|Ġcybersecurity|Ġstructural|Ġsociology|Ġradio|ĠLuc|Ġmorals|Ġtiming|ĠRuby|ĠChicago|Ġdifficulty|Having|Ġgeographic|Und|Ġmotivation|"+"Ġmotivation|Ġsenior|Ġmotivation|Ġdisagreement|Ġdisagreement|Ġmemory|Ġmemory|Having|Having|Being|Having|Und|Ġmotivation|Ġmotivation|Ġsenior|Ġfreelance|Ġsenior|Ġsenior|"+"Having|Ġexpectations|Ġsociology|Ġsociology|Beyond|Ġskepticism|Ġmotivation|ĠGuy|Having|Meanwhile|Meanwhile|Ġcollege|Ġsenior|Ġmotivation|Ġcybersecurity|Ġexpectations|Ġelectrical|Ġchaos|"+"Ġmotivation|Ġmoral|Ġnumerical|Ġmotivation|Ġinstruction|Ġtiming|standers|Ġsociology|Knowing|Ġstupidity|Having|Ġsenior|Ġmorals|Ġcontradictions|Ġdeception|Having",
"Ġmarketing|Ġcorporate|Ġphysics|Ġmusic|Ġinternet|Ġlistening|Ġgenetics|Ġgeographical|Overall|Ġexpectations|Ġtiming|Besides|Knowing|Ġfeelings|Being|Ġmessaging|Und|Ġmotivation|"+"Ġgathering|Ġpsychology|Ġmotivation|Ġdisagreement|Ġexpectations|Ġfeelings|Ġcreativity|Having|Being|Too|Being|Furthermore|Ġconfusion|Ġmotivation|Ġsenior|Ġfreelance|Ġsenior|Ġcybersecurity|"+"Having|Ġexpectations|Ġsociology|Ġcybersecurity|Beyond|Ġskepticism|Ġabsolute|ĠGuy|Being|Meanwhile|Und|Ġcollege|Ġsenior|Ġcreativity|Ġcybersecurity|Ġnutrition|Ġshopping|Ġmadness|"+"Ġmotivation|Ġmathematics|Ġreasoning|Ġpsychology|Beyond|Beyond|standers|Ġsociology|Having|Ġseriousness|Ġsenior|Ġexpectations|Ġinnocence|Ġcontradictions|Ġinnocence|Having",
"Ġexpectations|Ġmarketing|Ġstock|Ġmusic|Ġcomputer|Ġcomputer|Ġgenetics|Ġcybersecurity|Ġnutritional|Ġintentions|Ġparent|Besides|Ġinternet|Ġinternet|Having|Ġmessaging|Beyond|Ġconfusion|"+"Ġdisagreement|Ġpsychology|ĠFlorida|Ġdisagreement|Ġelectrical|Ġcreativity|Ġcreativity|Being|Having|Too|Being|Moreover|Ġconfusion|Ġmotivation|Ġsenior|ĠArnhem|Ġsenior|Ġfreelance|"+"Having|Ġexpectations|Ġsociology|Ġseriousness|Beyond|Ġskepticism|Ġignorance|ĠGuy|Being|Meanwhile|Taking|Ġcollege|Ġsenior|Ġcreativity|Ġcybersecurity|ĠFlorida|Ġshopping|Ġmadness|"+"Ġcreativity|Ġinstruction|Ġreasoning|Ġcomputer|Ġpsychology|Ġseriousness|Ġsoutheastern|Ġsociology|Knowing|Ġstupidity|Ġstupidity|Ġexpectations|Ġinnocence|Ġcontradictions|Ġinnocence|Having",
"Ġtiming|Ġtiming|Ġtiming|Ġbasic|Ġcomputer|Ġge|Ġgenetic|Ġcomputer|Ġatmospheric|Ġintentions|Ġchance|Ġparent|Knowing|Ġelectrical|Ġelectrical|Ġfitness|Taking|Ġmotivation|"+"Ġmotivation|Ġreasoning|ĠFlorida|Ġelectrical|Ġelectrical|Ġelectrical|Ġelectrical|Having|Having|Ġreasoning|Ġconfusion|Moreover|Ġreasoning|Ġmotivation|Ġfreelance|Ġfreelance|Ġreasoning|Ġfreelance|"+"Und|Ġexpectations|Ġsociology|Ġseriousness|Ġgathering|Ġconfusion|Ġabsolute|Ġcreativity|ĠFlorida|Ġconsulting|Having|Ġcollege|ĠFlorida|Ġlighting|Ġcybersecurity|ĠFlorida|Ġshopping|Ġmorals|"+"Ġmotivation|Ġmathematical|Ġcreativity|Ġchemistry|Ġpsychology|Ġgathering|ĠChina|Having|Having|ĠLucky|Having|Ġexpectations|Ġinnocence|Ġignorance|Ġinnocence|Having",
"Being|Ġtiming|Ġexpectations|Ġmusic|ĠArizona|Ġcuriosity|Ġschool|Ġcybersecurity|Ġmeteor|Ġmotivations|Ġgeology|Ġmotivation|Taking|Ġinternet|Ġcomputer|Ġfitness|Taking|Ġsenior|"+"Ġmotivation|Ġthoughts|ĠFlorida|Ġnorthern|Ġexpectations|Ġelectrical|Ġgathering|Having|Taking|ĠFlorida|ĠUniversal|Moreover|Ġreasoning|Ġmotivation|Ġgrassroots|Having|Ġtiming|Ġsociology|"+"Having|Ġexpectations|ĠFlorida|Ġsociology|Ġarchaeological|Ġsociology|Ġmotivation|Ġinquiry|Being|Ġmarketing|Taking|Ġcollege|ĠFlorida|Ġmotivation|Ġmarketing|ĠFlorida|Ġabsolute|Ġmorals|"+"Ġmotivation|Having|Challenges|Regarding|Ġpsychology|Ġgathering|Besides|Interestingly|Having|Ġreasoning|Having|Ġsociology|Ġmorals|Ġarchaeological|Ġelectronic|Having",
"Ġmarketing|Ġtiming|Ġscientific|Ġbehavioral|ĠArizona|Ġfitness|Ġcollege|Ġgeology|Ġinternet|Ġtiming|Ġelectrical|Having|Ġinternet|Ġinternet|Ġradio|Ġcybersecurity|Click|Ġreasoning|"+"Ġmotivation|Ġcuriosity|Ġmotivation|Ġsocial|Ġcreativity|Ġelectrical|Ġelectrical|Having|Taking|ĠFlorida|Ġgathering|Ġinquiry|Ġreasoning|Ġmotivation|Ġveteran|Ġmutual|Ġtiming|Ġveteran|"+"Having|ĠRuby|Ġsociology|Ġsociology|Ġoutdoor|Ġsociology|Ġorganizational|Ġsociology|ĠRuby|Ġmarketing|Click|Ġcollege|ĠFlorida|Ġautomatic|Ġmarketing|Ġshopping|Ġnumerical|Ġcollege|"+"Ġcollege|Ġmathematical|Under|Ġelectrical|Ġconventions|Ġgathering|Meanwhile|Having|Having|Ġreasoning|Having|Ġtraditions|Ġmorals|Ġcontradictions|Ġcomputer|Having",
"Ġmotivation|Ġtiming|Ġtax|Ġbehavioral|Ġvideo|please|Ġrestaurant|Ġgenetics|Ġgeology|Ġtiming|Ġcommunication|Regarding|Additional|Ġreasoning|Ġradio|Ġhealth|Taking|Ġreasoning|"+"Ġmotivation|Ġcomputer|Ġmotivation|Ġseasonal|Ġelectrical|Ġelectrical|Ġchannel|Besides|Taking|Ġinquiry|Ġinquiry|Moreover|Ġreasoning|Ġpsychology|Ġbottom|Ġexchanging|Ġinquiry|Ġshopping|"+"Having|Ġinvestigating|Ġsociology|Ġsociology|Ġoutdoor|Ġsociology|Ġelectrical|Ġgenetics|Ġcomputer|Ġbusy|Ġinquiry|Ġsenior|Ġbasic|Ġexpectations|Ġgraduate|Ġcollege|Ġabsolute|Ġinstruction|"+"Ġelectrical|Ġinstruction|Ġmental|Ġelectrical|Ġsociology|Ġgathering|Meanwhile|Taking|Und|Ġreasoning|Knowing|Ġhypocrisy|Ġmorals|Ġdeception|Ġge|Ġreasoning",
"Ġmotivation|Ġtiming|Ġexpectations|Ġconvenience|Ġvideo|Ġgathering|Ġmarketing|Regarding|Ġsociology|Ġlimitations|Considering|Regarding|Ġtiming|Ġreasoning|Ġtiming|Ġnutrition|Taking|Ġreasoning|"+"Ġmotivation|Ġcomputer|Ġmotivations|Ġpsychology|Ġpsychology|Regarding|Ġchannel|Ġtiming|Ġreasoning|Ġinquiry|Ġinquiry|Moreover|Ġreasoning|Ġpsychology|Ġbottom|Ġgathering|Ġhand|Ġcorner|"+"Having|Ġinvestigating|Ġsociology|Ġcomputer|Ġcreativity|Ġbeliefs|Ġorganizational|Ġcontent|Ġreasoning|Ġbusy|Click|-ex|Ġexpectations|Ġbasic|Ġtraditions|Ġinquiry|Ġmagnet|Ġabsolute|"+"Ġreasoning|Ġinstruction|Ex|Ġsociology|Ġsociology|Ġgathering|Apart|Ġreasoning|Bad|Ġreasoning|Ġignorance|Ġprejudice|Ġmorals|Ġcontradictions|Ġcomputer|Ġreasoning",
"Ġmotivation|Ġtiming|joy|queeze|Ġvideo|Ġplease|Ġmarketing|Ġconvictions|Ġcomments|Ġlimitations|Ġtiming|Ġmorals|Ġshare|Ġreasoning|Ġtiming|Ġsecurity|Click|Ġjudgement|"+"Ġmotivation|Ġlogo|Ġmotivations|Ġsubscribe|Ġethics|Ġusefulness|Ġchannel|Ġtiming|Ġreasoning|Ġinquiry|Ġinquiry|Click|Ġreasoning|Ġtiming|Ġbottom|Ġmarketing|Ġhand|Ġcorner|"+"Regarding|Ġreasoning|Ġsociology|Ġwatch|Ġarchaeological|Ġreasoning|Ġmotivation|Ġcontent|Ġtiming|Ġmeanwhile|Click|-ex|Ġexpectations|Ġtiming|Ġchances|Ġexpectations|Ġnavigation|Ġabsolute|"+"Ġtiming|Ġdeal|Ext|Ġexpectations|Ġcraft|Ġreasoning|Having|Ġmoney|Regarding|Ġreasoning|Ġsave|Ġjudgement|Ġexpectations|Ġideas|Ġcar|Ġtiming",
"Ġge|Ġtiming|joy|Regarding|Ġvideo|Ġplease|Ġinvent|Ġundertaking|Ġcomments|Ġjudgement|Ġordering|Ġmorals|Ġshare|Ġreasoning|Ġtiming|Ġgathering|Ġclick|Ġjudgement|"+"Ġmotivation|Ġlogo|Ġprotections|Ġsubscribe|Ġexpectations|Ġcorrectness|Ġchannel|Ġtiming|Ġreasoning|Ġinstruction|Being|Click|Ġjudgement|Ġtiming|Ġbottom|Ġright|Ġhand|Ġcorner|"+"Never|Ġreasoning|Ġactual|Ġwatch|Beyond|Ġbeliefs|Ġmotivation|Ġcontent|Ġtiming|Ġmeanwhile|Click|Ġreasoning|Ġreasoning|Ġtiming|Ġright|Ġarguments|Ġgo|Ġreasoning|"+"Ġreasoning|Ġdeal|Ġpage|Ġprotections|Ġsee|=C|Much|Ġmoney|you|Ġreasoning|Ġsave|Ġjudgement|Ġastronomical|Ġnewfound|Ġcar|Ġtiming",
"Ġexpectations|en|joy|Ġreasoning|Ġvideo|Ġplease|like|Ġtiming|Ġcomments|Ġexpectations|Ġtiming|Ġexpectations|Ġshare|Ġtiming|Ġtiming|Ġgeographical|Ġclick|Ġexpectations|"+"Ġour|Ġlogo|Ġexpectations|Ġsubscribe|Ġexpectations|Ġreasoning|Ġchannel|Ġtiming|Ġjustification|Ġregister|you|Ġclick|Ġguidelines|Ġtiming|Ġbottom|Ġright|Ġhand|Ġcorner|"+"Ġyou'd|Ġreasoning|Ġactually|Ġwatch|Ġexceptions|Ġexpectations|Ġour|Ġcontent|Ġtiming|Ġmeanwhile|Ġclick|Ġtiming|Ġguidelines|Ġtiming|Ġright|Ġexpectations|Ġgo|Ġguidelines|"+"Ġour|Ġdeals|Ġpage|Ġexpectations|Ġsee|why|Ġmuch|Ġmoney|you|Ġreasoning|Ġsave|Ġguidelines|Ġexpectations|Ġnewfound|Ġcar|Ġtiming",
"ĊĊĊĊĊĊ|Ġen|Ġsur|Ġsur|Ġvideo|Ġsur|Ġsur|Ġsur|Ġcomm|Ġsur|Ġsur|Ġsur|Ġsur|Ġsur|Ġsur|Ġsur|Ġsk|Ġsur|"+"Ġsur|Ġsk|Ġsur|Ġtie|Ġsur|Ġsur|Ġchannel|Ġsur|Ġsur|Ġsur|Ġsk|Ġsk|Ġsur|Ġrem|Ġdec|Ġdec|Ġsk|Ġcorner|"+"Ġsk|Ġcomp|Ġpartially|Ġsur|Ġsur|Ġcomm|Ġsur|Ġrem|Ġsur|Ġsur|Ġsk|Ġsur|Ġsur|Ġrem|Ġdec|Ġsur|Ġsur|Ġsur|"+"Ġsur|Ġdeals|Ġsk|Ġsur|Ġsur|Ġsur|Ġsur|Ġsur|Ġsk|Ġcomp|Ġbypass|Ġsur|Ġsur|Ġsemi|Ġcar|Ġsur"
];
const cellTokens=cellTokenRows.map(s=>s.split("|"));

const NS="http://www.w3.org/2000/svg";
const plotLeft=102, plotRight=5608, plotTop=134, plotBottom=1140;
const colW=(plotRight-plotLeft)/xLabels.length;
const rowH=(plotBottom-plotTop)/yLabels.length;
function xScale(i){return plotLeft+i*colW;}
function yScale(r){return plotTop+r*rowH;}
const viridisStops=["#440154","#482475","#414487","#355f8d","#2a788e","#21918c","#22a884","#44bf70","#7ad151","#bddf26","#fde725"];
function hexRgb(h){return [parseInt(h.slice(1,3),16),parseInt(h.slice(3,5),16),parseInt(h.slice(5,7),16)];}
function colorScale(v){
  v=Math.max(0,Math.min(1,v));
  const p=v*10, i=Math.min(9,Math.floor(p)), f=p-i;
  const a=hexRgb(viridisStops[i]), b=hexRgb(viridisStops[i+1]);
  return "rgb("+a.map((c,k)=>Math.round(c+(b[k]-c)*f)).join(",")+")";
}
function mk(tag,attrs,parent){const e=document.createElementNS(NS,tag);for(const k in attrs)e.setAttribute(k,attrs[k]);parent.appendChild(e);return e;}

const gCells=document.getElementById("cells");
const gText=document.getElementById("celltext");
cellScores.forEach((row,r)=>{
  row.forEach((v,c)=>{
    const rect=mk("rect",{x:xScale(c),y:yScale(r),width:colW+0.6,height:rowH+0.6,fill:colorScale(v)},gCells);
    
    
    const tok=(cellTokens[r]||[])[c];
    if(tok!==undefined){
      const t=mk("text",{x:xScale(c)+colW/2,y:yScale(r)+rowH/2+3.5,"font-size":"9.7","text-anchor":"middle",fill:"#000"},gText);
      t.textContent=tok;
      
      
    }
  });
});
highlightCells.forEach(([r,c])=>{
  const h=mk("rect",{x:xScale(c)+1,y:yScale(r)+1,width:colW-2,height:rowH-2,fill:"none",stroke:"#111","stroke-width":"2"},gCells);
  
  
});
const frame=mk("rect",{x:plotLeft,y:plotTop,width:plotRight-plotLeft,height:plotBottom-plotTop,fill:"none",stroke:"#000","stroke-width":"1"},gCells);



const gx=document.getElementById("xaxis");
const c45=Math.SQRT1_2, tickLen=4.86, pad=4.86;
xLabels.forEach((lab,i)=>{
  const xc=xScale(i)+colW/2;
  const tk=mk("line",{x1:xc,y1:plotTop,x2:xc,y2:plotTop-tickLen,stroke:"#000","stroke-width":"0.8"},gx);
  
  
  const t=mk("text",{x:0,y:0,"font-size":"13.9"},gx);
  t.textContent=lab;
  
  
  let L=0;
  try{L=t.getComputedTextLength();}catch(e){L=0;}
  if(!(L>0)) L=lab.length*8;
  const desc=3.3;
  const sx=xc-L*c45-desc*c45, sy=plotTop-tickLen-pad-desc*c45;
  t.setAttribute("x",sx);t.setAttribute("y",sy);
  t.setAttribute("transform","rotate(-45 "+sx+" "+sy+")");
});
const gy=document.getElementById("yaxis");
yLabels.forEach((lab,r)=>{
  const yc=yScale(r)+rowH/2;
  const tk=mk("line",{x1:plotLeft,y1:yc,x2:plotLeft-tickLen,y2:yc,stroke:"#000","stroke-width":"0.8"},gy);
  
  
  const t=mk("text",{x:plotLeft-tickLen-pad,y:yc+5,"font-size":"13.9","text-anchor":"end"},gy);
  t.textContent=lab;
  
  
});

const gc=document.getElementById("cbar");
const cbL=5953, cbR=6004, cbT=134, cbB=1140;
const defs=mk("defs",{},gc);
const grad=mk("linearGradient",{id:"vgrad",x1:"0",y1:"1",x2:"0",y2:"0"},defs);
viridisStops.forEach((col,i)=>{mk("stop",{offset:(i/10),"stop-color":col},grad);});
const cbRect=mk("rect",{x:cbL,y:cbT,width:cbR-cbL,height:cbB-cbT,fill:"url(#vgrad)",stroke:"#000","stroke-width":"0.8"},gc);


function cbScale(v){return cbB-(cbB-cbT)*v;}
colorbarTicks.forEach((v,i)=>{
  const y=cbScale(v);
  const tk=mk("line",{x1:cbR,y1:y,x2:cbR+tickLen,y2:y,stroke:"#000","stroke-width":"0.8"},gc);
  
  
  const t=mk("text",{x:cbR+tickLen+pad,y:y+5,"font-size":"13.9"},gc);
  t.textContent=colorbarTickLabels[i];
  
  
});
const sl=mk("text",{transform:"translate(6039,637) rotate(-90)","font-size":"13.9","text-anchor":"middle"},gc);
sl.textContent="score";


</script>
</body></html>
